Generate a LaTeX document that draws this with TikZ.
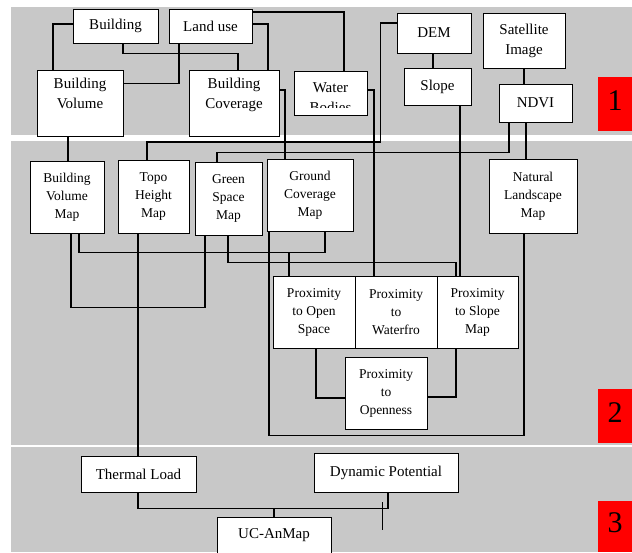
\documentclass[tikz,border=0pt]{standalone}
\usepackage{fontspec}
\setmainfont{Liberation Serif}
\definecolor{bandgray}{RGB}{200,200,200}
\tikzset{
  box/.style={draw=black, line width=0.9pt, fill=white, inner sep=0pt, align=center},
  bigbox/.style={box, font=\fontsize{15}{20}\selectfont},
  mapbox/.style={box, font=\fontsize{13.5}{18}\selectfont},
  link/.style={line width=1.3pt},
  tag/.style={fill=red, inner sep=0pt, text depth=7pt, font=\fontsize{30}{30}\selectfont}
}

\begin{document}
\begin{tikzpicture}[x=1pt,y=-1pt]
  \path[use as bounding box, fill=white] (0,0) rectangle (632,552);
  \fill[bandgray] (11,7) rectangle (632,135);   % bande 1
  \fill[bandgray] (11,141) rectangle (632,445); % bande 2
  \fill[bandgray] (11,447) rectangle (632,552); % bande 3

  % band 1
  \node[bigbox, minimum width=85pt, minimum height=34pt] (bldg) at (115.5,26) {Building};
  \node[bigbox, minimum width=83pt, minimum height=34pt] (landuse) at (210.5,26) {Land use};
  \node[bigbox, minimum width=86pt, minimum height=66pt] (bvol) at (80,103) {Building\\Volume\\\phantom{M}};
  \node[bigbox, minimum width=90pt, minimum height=66pt] (bcov) at (234,103) {Building\\Coverage\\\phantom{M}};
  \node[bigbox, minimum width=73pt, minimum height=44pt] (water) at (330.5,93) {};
  \begin{scope}
    \clip ([yshift=8pt]water.south west) rectangle (water.north east);
    \node[font=\fontsize{15}{20}\selectfont, align=center] (watertxt) at ([yshift=-5pt]water.center) {Water\\Bodies};
  \end{scope}
  \node[bigbox, minimum width=74pt, minimum height=40pt] (dem) at (434,33) {DEM};
  \node[bigbox, minimum width=67pt, minimum height=37pt] (slope) at (437.5,86.5) {Slope};
  \node[bigbox, minimum width=82pt, minimum height=55pt] (sat) at (524,40.5) {Satellite\\Image};
  \node[bigbox, minimum width=73pt, minimum height=38pt] (ndvi) at (535.5,103) {NDVI};
  \node[tag, minimum width=34pt, minimum height=54pt] (one) at (615,104) {1};

  % band 2
  \node[mapbox, minimum width=74pt, minimum height=72pt] (bvmap) at (67,197) {Building\\Volume\\Map};
  \node[mapbox, minimum width=71pt, minimum height=73pt] (topo) at (153.5,196.5) {Topo\\Height\\Map};
  \node[mapbox, minimum width=67pt, minimum height=73pt] (green) at (228.5,198.5) {Green\\Space\\Map};
  \node[mapbox, minimum width=86pt, minimum height=72pt] (ground) at (310,195) {Ground\\Coverage\\Map};
  \node[mapbox, minimum width=88pt, minimum height=74pt] (natural) at (533,196) {Natural\\Landscape\\Map};
  \node[mapbox, minimum width=82pt, minimum height=72pt] (popen) at (314,312) {Proximity\\to Open\\Space};
  \node[mapbox, minimum width=82pt, minimum height=72pt] (pwater) at (396,312) {Proximity\\to\\Waterfro};
  \node[mapbox, minimum width=81pt, minimum height=72pt] (pslope) at (477.5,312) {Proximity\\to Slope\\Map};
  \node[mapbox, minimum width=82pt, minimum height=72pt] (popenness) at (386,393) {Proximity\\to\\Openness};
  \node[tag, minimum width=34pt, minimum height=54pt] (two) at (615,416) {2};

  % band 3
  \node[bigbox, minimum width=115pt, minimum height=36pt] (thermal) at (138.5,474) {Thermal Load};
  \node[bigbox, minimum width=144pt, minimum height=39pt] (dynamic) at (386,472.5) {Dynamic Potential};
  \node[bigbox, minimum width=114pt, minimum height=36pt] (ucan) at (274,535) {UC-AnMap};
  \node[tag, minimum width=34pt, minimum height=51pt] (three) at (615,526.5) {3};

  % liens 1
  \draw[link] ([yshift=2pt]bldg.west) -| ([xshift=-27pt]bvol.north);
  \draw[link] ([xshift=7.5pt]bldg.south) -- ++(0,10) -| ([xshift=4pt]bcov.north);
  \draw[link] ([xshift=-31.5pt]landuse.south) |- ([yshift=19.5pt]bvol.east);
  \draw[link] ([yshift=2pt]landuse.east) -| ([xshift=34pt]bcov.north);
  \draw[link] ([yshift=14pt]landuse.east) -| ([xshift=13.5pt]water.north);
  \draw[link] ([yshift=3pt]water.east) -| ([xshift=-22pt]pwater.north);
  \draw[link] ([yshift=10pt]dem.west) -- ++(-16,0) -- ++(0,119) -| ([xshift=-6.5pt]topo.north);
  \draw[link] ([yshift=13pt]bcov.east) -| ([xshift=-25pt]ground.north);
  \draw[link] ([xshift=-12pt]bvol.south) -- ([xshift=1pt]bvmap.north);
  \draw[link] ([xshift=-1pt]dem.south) -- ([xshift=-4.5pt]slope.north);
  \draw[link] (sat.south) -- ([xshift=-11.5pt]ndvi.north);
  \draw[link] ([xshift=22.5pt]slope.south) -- ([xshift=-17.5pt]pslope.north);
  \draw[link] ([xshift=-26.5pt]ndvi.south) -- ++(0,30) -| ([xshift=-11.5pt]green.north);
  \draw[link] ([xshift=-9.5pt]ndvi.south) -- ([xshift=-7pt]natural.north);

  % liens 2
  \draw[link] ([xshift=4pt]bvmap.south) -- ++(0,74) -| ([xshift=-23.5pt]green.south);
  \draw[link] ([xshift=-15.5pt]topo.south) -- ([xshift=-0.5pt]thermal.north);
  \draw[link] ([xshift=12pt]bvmap.south) -- ++(0,19) -| ([xshift=15pt]ground.south);
  \draw[link] ([xshift=-25pt]popen.north) -- ++(0,-24);
  \draw[link] ([xshift=-0.5pt]green.south) -- ++(0,27) -| ([xshift=-21.5pt]pslope.north);
  \draw[link] ([xshift=-41pt]ground.south) -- ++(0,204) -| ([xshift=-9pt]natural.south);
  \draw[link] ([xshift=2pt]popen.south) |- ([yshift=-5pt]popenness.west);
  \draw[link] ([xshift=-21.5pt]pslope.south) |- ([yshift=-4pt]popenness.east);

  % liens 3
  \draw[link] ([xshift=-0.5pt]thermal.south) -- ++(0,16) -| ([xshift=2pt]dynamic.south);
  \draw[link] (ucan.north) -- ++(0,-9);
  \draw[line width=0.8pt] ([xshift=-4pt,yshift=-10pt]dynamic.south) -- ++(0,28);
\end{tikzpicture}
\end{document}
